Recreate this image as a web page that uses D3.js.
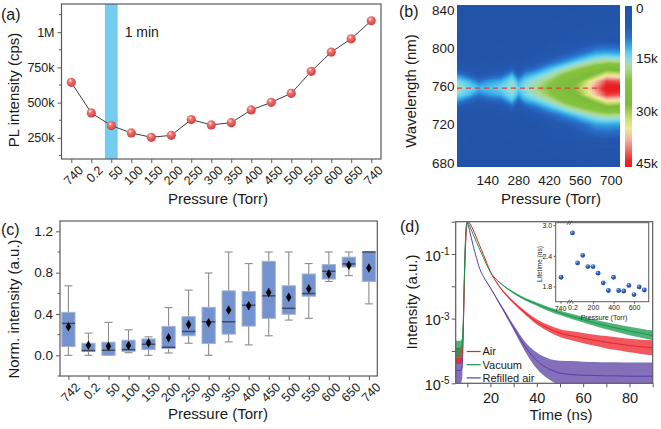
<!DOCTYPE html>
<html><head><meta charset="utf-8">
<script src="https://cdn.jsdelivr.net/npm/d3@7/dist/d3.min.js"></script>
<style>
html,body{margin:0;padding:0;background:#fff;}
svg{display:block;font-family:"Liberation Sans",Arial,Helvetica,sans-serif;}
</style></head><body>
<svg id="fig" width="661" height="429" viewBox="0 0 661 429"></svg>
<script>
// ---------------- (a) PL intensity vs pressure ----------------
const aLabels = ["740","0.2","50","100","150","200","250","300","350","400","450","500","550","600","650","740"];
const aIntensity = [644000,427000,337000,285000,254000,268000,380000,342000,358000,448000,502000,566000,722000,859000,953000,1081000];
const aYTicks = [250000,500000,750000,1000000];
const aYTickLabels = ["250k","500k","750k","1M"];
const aBandCategory = 2;
const aBandText = "1 min";

// ---------------- (b) PL map (k counts) ----------------
const bPressure = [0,50,100,150,200,250,280,310,350,420,490,560,630,680,740];
const bWavelength = [676,700,720,730,738,745,751,758,765,771,778,786,795,810,845];
const bSpectra = [
  [1.5,2,2.5,3.5,6,11,14.5,17,14.5,11,6,3.5,2.5,2,1.5],
  [1.5,2,2.5,3,5,8,12.5,14.5,12.5,8,5,3,2.5,2,1.5],
  [1.5,1.8,2,3,4,6,9,12.5,9,6,4,3,2,1.8,1.5],
  [1.5,1.8,2.2,3,4.5,7,11,13,11,7,4.5,3,2.2,1.8,1.5],
  [1.5,1.8,2.3,3.2,5,8,12,14,12,8,5,3.2,2.3,1.8,1.5],
  [1.5,2,3,4.5,7.5,12.5,15,16.5,15,12.5,7.5,4.5,3,2,1.5],
  [1.5,1.8,2.3,3.2,5,7.5,11.5,13.5,11.5,7.5,5,3.2,2.3,1.8,1.5],
  [1.5,2,2.8,4.2,7,11.5,14,15.5,14,11.5,7,4.2,2.8,2,1.5],
  [1.5,2,3,5,8.5,13,16,17.5,16,13,8.5,5,3,2,1.5],
  [1.5,2.5,4.5,7.5,12.5,16.5,20,22,20,16.5,12.5,7.5,4.5,2.5,1.5],
  [1.5,3,6,10.5,16.5,22,25,26,25,22,16.5,10.5,6,3,1.5],
  [2,3.5,8,14,20.5,25,29,31,29,25,20.5,14,8,3.5,2],
  [2,4,11,17,24,30,37,40,37,30,24,17,11,4,2],
  [2,4,11.5,18,27,35,43,46,43,35,27,18,11.5,4,2],
  [2,4,11,17.5,26,34,42,46,42,34,26,17.5,11,4,2]
];
const bXTicks = [140,280,420,560,700];
const bYTicks = [680,720,760,800,840];
const bPeakWavelength = 758;
const bColorTicks = [0,15000,30000,45000];
const bColorTickLabels = ["0","15k","30k","45k"];

// ---------------- (c) box plot ----------------
const cLabels = ["742","0.2","50","100","150","200","250","300","350","400","450","500","550","600","650","740"];
const cWhiskerLow  = [0,0,0,0.026,0,0.023,0.117,0,0.13,0.101,0.189,0.341,0.358,0.715,0.771,0.498];
const cQ1          = [0.085,0.039,0.0,0.039,0.055,0.065,0.189,0.114,0.205,0.283,0.358,0.397,0.572,0.738,0.855,0.715];
const cMedian      = [0.309,0.046,0.049,0.055,0.107,0.078,0.231,0.325,0.325,0.485,0.576,0.455,0.598,0.813,0.885,1.0];
const cQ3          = [0.416,0.117,0.127,0.146,0.159,0.28,0.374,0.465,0.624,0.618,0.91,0.673,0.787,0.878,0.95,1.0];
const cWhiskerHigh = [0.673,0.215,0.319,0.247,0.179,0.462,0.631,0.797,1.0,0.888,1.0,1.0,0.888,1.0,1.0,1.0];
const cMean        = [0.276,0.098,0.088,0.094,0.12,0.169,0.299,0.315,0.439,0.481,0.608,0.563,0.644,0.787,0.872,0.846];
const cYTicks = [0,0.4,0.8,1.2];

// ---------------- (d) decay curves (log10 intensity) ----------------
const dTime = [5,6,7,7.8,8.3,8.7,9.1,9.5,10,10.5,11,12,13,14,15,17,20,23,26,30,35,40,45,50,55,60,65,70,75,80,85,90];
const dAirLog    = [-4.15,-4.15,-4.15,-4.1,-3.2,-2.0,-1.0,-0.4,-0.06,0,-0.04,-0.17,-0.33,-0.5,-0.68,-1.02,-1.55,-1.92,-2.2,-2.5,-2.82,-3.1,-3.3,-3.45,-3.53,-3.6,-3.67,-3.73,-3.78,-3.83,-3.87,-3.9];
const dVacuumLog = [-3.93,-3.93,-3.93,-3.8,-3.0,-1.8,-0.8,-0.2,0,-0.05,-0.13,-0.3,-0.47,-0.64,-0.8,-1.12,-1.56,-1.82,-2.0,-2.2,-2.4,-2.55,-2.7,-2.82,-2.93,-3.03,-3.13,-3.22,-3.3,-3.38,-3.45,-3.52];
const dRefillLog = [-4.6,-4.6,-4.6,-4.5,-3.2,-1.9,-0.85,-0.2,-0.02,-0.12,-0.28,-0.58,-0.87,-1.13,-1.38,-1.7,-2.05,-2.42,-2.78,-3.28,-3.87,-4.3,-4.55,-4.68,-4.73,-4.75,-4.76,-4.77,-4.77,-4.78,-4.78,-4.78];
const dAirNoise    = [0.25,0.25,0.25,0.2,0.05,0,0,0,0,0,0,0,0,0,0,0,0.01,0.02,0.03,0.04,0.06,0.08,0.1,0.12,0.14,0.16,0.17,0.19,0.2,0.21,0.22,0.23];
const dVacuumNoise = [0.25,0.25,0.25,0.2,0.05,0,0,0,0,0,0,0,0,0,0,0,0.01,0.01,0.02,0.03,0.04,0.05,0.06,0.07,0.08,0.09,0.1,0.11,0.12,0.13,0.14,0.15];
const dRefillNoise = [0.4,0.4,0.4,0.35,0.05,0,0,0,0,0,0,0,0,0,0,0,0.02,0.03,0.05,0.08,0.15,0.25,0.32,0.38,0.42,0.42,0.42,0.42,0.42,0.42,0.42,0.42];
const dSeriesNames = ["Air","Vacuum","Refilled air"];
const dXTicks = [20,40,60,80];

// inset: lifetime vs pressure
const insetBreakLabel = "740";
const insetBreakLifetime = 1.98;
const insetPressure = [0.2,50,100,150,200,250,300,350,400,450,500,550,600,650,700];
const insetLifetime = [2.85,2.26,2.41,2.19,2.19,2.06,1.87,1.72,1.98,1.72,1.71,1.82,1.64,1.79,1.73];
const insetXTicks = [200,400,600];
const insetYTicks = [1.8,2.4,3.0];

// =====================================================================
const svg = d3.select("#fig");
const defs = svg.append("defs");
const INK = "#1a1a1a", FRAME = "#5a5a5a";

function sphere(id, hi, mid, lo){
  const g = defs.append("radialGradient").attr("id", id).attr("cx","38%").attr("cy","32%").attr("r","70%");
  g.append("stop").attr("offset","0%").attr("stop-color",hi);
  g.append("stop").attr("offset","30%").attr("stop-color",mid);
  g.append("stop").attr("offset","100%").attr("stop-color",lo);
}
sphere("sRed","#fff4f0","#f27472","#cf3b3b");
sphere("sBlue","#d8e6ff","#3f6fc8","#1c3f92");

function styleAxis(g, size){
  g.attr("font-family", null).attr("font-size", size);
  g.select(".domain").remove();
  g.selectAll(".tick line").attr("stroke", FRAME).attr("stroke-width", 1);
  g.selectAll(".tick text").attr("fill", INK);
}
function frame(box){
  svg.append("rect").attr("x",box.l).attr("y",box.t).attr("width",box.r-box.l).attr("height",box.b-box.t)
    .attr("fill","none").attr("stroke",FRAME).attr("stroke-width",1.2);
}
function label(x, y, txt, size, opts={}){
  const t = svg.append("text").attr("x",x).attr("y",y).attr("font-size",size).attr("fill",INK).text(txt);
  if (opts.anchor) t.attr("text-anchor", opts.anchor);
  if (opts.rotate) t.attr("transform", `rotate(-90,${x},${y})`);
  return t;
}

// ---------------- panel (a) ----------------
{
  const A = {l:61.5, r:381, t:4, b:159};
  const x = d3.scalePoint().domain(d3.range(aLabels.length)).range([A.l, A.r]).padding(0.49);
  const y = d3.scaleLinear().domain([100000,1200000]).range([A.b, A.t]);
  const st = x.step();
  svg.append("rect").attr("x", x(aBandCategory)-0.32*st).attr("y", A.t).attr("width", 0.64*st)
    .attr("height", A.b-A.t).attr("fill","#74ccf1");
  svg.append("path").datum(aIntensity)
    .attr("d", d3.line().x((d,i)=>x(i)).y(d=>y(d)))
    .attr("fill","none").attr("stroke","#3c3c3c").attr("stroke-width",1);
  svg.append("g").selectAll("circle").data(aIntensity).join("circle")
    .attr("cx",(d,i)=>x(i)).attr("cy",d=>y(d)).attr("r",4.6).attr("fill","url(#sRed)");
  const gy = svg.append("g").attr("transform",`translate(${A.l},0)`)
    .call(d3.axisLeft(y).tickValues(aYTicks).tickFormat((d,i)=>aYTickLabels[i]).tickSize(4).tickPadding(3));
  styleAxis(gy, 12.5);
  svg.append("g").selectAll("line").data(d3.range(125000,1200000,250000)).join("line")
    .attr("x1",A.l-2.5).attr("x2",A.l).attr("y1",d=>y(d)).attr("y2",d=>y(d)).attr("stroke",FRAME);
  const gx = svg.append("g").attr("transform",`translate(0,${A.b})`)
    .call(d3.axisBottom(x).tickFormat(i=>aLabels[i]).tickSize(4));
  styleAxis(gx, 12.5);
  gx.selectAll(".tick text").attr("x",0).attr("y",0).attr("dy",0)
    .attr("transform","translate(12,12) rotate(-45)").style("text-anchor","end");
  frame(A);
  label(x(aBandCategory)+0.32*st+7, 37, aBandText, 14);
  label(218, 204, "Pressure (Torr)", 15, {anchor:"middle"});
  label(19, 90, "PL intensity (cps)", 15, {anchor:"middle", rotate:true});
  label(1, 20, "(a)", 16);
}

// ---------------- panel (b) ----------------
{
  const B = {l:457, r:620, t:5, b:167};
  const x = d3.scaleLinear().domain([0,740]).range([B.l, B.r]);
  const y = d3.scaleLinear().domain([675.6,845]).range([B.b, B.t]);
  const cStops = [0,6000,9000,11500,13500,15500,18000,21000,28000,32000,35000,38000,41000,44000,46000];
  const cCols  = ["#2052a5","#2459b0","#2a72cc","#35a9e6","#62d0ef","#97dcd6","#acd98e","#86c440","#7bbc3a","#c9dc6c","#efe99c","#f2b4a6","#f07070","#ec2a2a","#e81c22"];
  const color = d3.scaleLinear().domain(cStops).range(cCols).interpolate(d3.interpolateRgb).clamp(true);
  const nx = bPressure.length, ny = bWavelength.length;
  const vals = [];
  for (let j=0;j<ny;j++) for (let i=0;i<nx;i++) vals.push(bSpectra[i][j]*1000);
  const thr = d3.range(0, 46500, 500);
  const cont = d3.contours().size([nx, ny]).thresholds(thr)(vals);
  const ix = d3.scaleLinear().domain(d3.range(nx).map(i=>i+0.5)).range(bPressure);
  const iy = d3.scaleLinear().domain(d3.range(ny).map(j=>j+0.5)).range(bWavelength);
  const path = d3.geoPath(d3.geoTransform({point(px,py){ this.stream.point(x(ix(px)), y(iy(py))); }}));
  defs.append("clipPath").attr("id","clipB").append("rect")
    .attr("x",B.l).attr("y",B.t).attr("width",B.r-B.l).attr("height",B.b-B.t);
  const g = svg.append("g").attr("clip-path","url(#clipB)");
  g.append("rect").attr("x",B.l).attr("y",B.t).attr("width",B.r-B.l).attr("height",B.b-B.t).attr("fill",color(0));
  g.selectAll("path").data(cont).join("path").attr("d",path)
    .attr("fill",d=>color(d.value+250)).attr("stroke",d=>color(d.value+250)).attr("stroke-width",0.3);
  g.append("line").attr("x1",B.l).attr("x2",x(640)).attr("y1",y(bPeakWavelength)).attr("y2",y(bPeakWavelength))
    .attr("stroke","#e8373d").attr("stroke-width",1.2).attr("stroke-dasharray","5,4");
  svg.append("g").selectAll("text").data(bYTicks).join("text")
    .attr("x",B.l-2.5).attr("y",d=>y(d)).attr("dy","0.36em").attr("text-anchor","end")
    .attr("font-size",13.5).attr("fill",INK).text(d=>d);
  svg.append("g").selectAll("text").data(bXTicks).join("text")
    .attr("x",d=>x(d)).attr("y",185).attr("text-anchor","middle")
    .attr("font-size",13.5).attr("fill",INK).text(d=>d);
  label(551, 204, "Pressure (Torr)", 15, {anchor:"middle"});
  label(416, 91, "Wavelength (nm)", 15, {anchor:"middle", rotate:true});
  label(399, 17, "(b)", 16);
  const cb = d3.scaleLinear().domain([0,46000]).range([6,167]);
  const lg = defs.append("linearGradient").attr("id","cbar").attr("x1",0).attr("x2",0).attr("y1",0).attr("y2",1);
  d3.range(0, 46001, 1000).forEach(v => lg.append("stop").attr("offset", v/46000).attr("stop-color", color(v)));
  svg.append("rect").attr("x",625).attr("y",cb(0)).attr("width",7).attr("height",cb(46000)-cb(0)).attr("fill","url(#cbar)");
  svg.append("g").selectAll("text").data(bColorTicks).join("text")
    .attr("x",636).attr("y",(d,i)=>i===0?cb(d)+2.5:cb(d)).attr("dy","0.36em")
    .attr("font-size",13.5).attr("fill",INK).text((d,i)=>bColorTickLabels[i]);
}

// ---------------- panel (c) ----------------
{
  const C = {l:60, r:377.3, t:221, b:376};
  const x = d3.scalePoint().domain(d3.range(cLabels.length)).range([C.l, C.r]).padding(0.42);
  const y = d3.scaleLinear().domain([-0.2,1.3]).range([C.b, C.t]);
  const st = x.step(), bw = 0.66*st, cw = 0.4*st;
  const g = svg.append("g");
  const idx = d3.range(cLabels.length);
  g.selectAll(".wh").data(idx).join("line").attr("x1",i=>x(i)).attr("x2",i=>x(i))
    .attr("y1",i=>y(cWhiskerLow[i])).attr("y2",i=>y(cWhiskerHigh[i])).attr("stroke","#8c8c8c").attr("stroke-width",1.1);
  g.selectAll(".capH").data(idx).join("line").attr("x1",i=>x(i)-cw/2).attr("x2",i=>x(i)+cw/2)
    .attr("y1",i=>y(cWhiskerHigh[i])).attr("y2",i=>y(cWhiskerHigh[i])).attr("stroke","#8c8c8c").attr("stroke-width",1.1);
  g.selectAll(".capL").data(idx).join("line").attr("x1",i=>x(i)-cw/2).attr("x2",i=>x(i)+cw/2)
    .attr("y1",i=>y(cWhiskerLow[i])).attr("y2",i=>y(cWhiskerLow[i])).attr("stroke","#8c8c8c").attr("stroke-width",1.1);
  g.selectAll(".box").data(idx).join("rect").attr("x",i=>x(i)-bw/2).attr("width",bw)
    .attr("y",i=>y(cQ3[i])).attr("height",i=>Math.max(0.5,y(cQ1[i])-y(cQ3[i])))
    .attr("fill","#7292d0").attr("stroke","#a6b3cf").attr("stroke-width",1);
  g.selectAll(".med").data(idx).join("line").attr("x1",i=>x(i)-bw/2).attr("x2",i=>x(i)+bw/2)
    .attr("y1",i=>y(cMedian[i])).attr("y2",i=>y(cMedian[i])).attr("stroke","#3f4a62").attr("stroke-width",1.5);
  g.selectAll(".mean").data(idx).join("path").attr("d", d3.symbol(d3.symbolDiamond, 26))
    .attr("transform",i=>`translate(${x(i)},${y(cMean[i])})`).attr("fill","#000");
  const gy = svg.append("g").attr("transform",`translate(${C.l},0)`)
    .call(d3.axisLeft(y).tickValues(cYTicks).tickFormat(d3.format(".1f")).tickSize(4).tickPadding(3));
  styleAxis(gy, 13.5);
  svg.append("g").selectAll("line").data([-0.2,0.2,0.6,1.0]).join("line")
    .attr("x1",C.l-2.5).attr("x2",C.l).attr("y1",d=>y(d)).attr("y2",d=>y(d)).attr("stroke",FRAME);
  const gx = svg.append("g").attr("transform",`translate(0,${C.b})`)
    .call(d3.axisBottom(x).tickFormat(i=>cLabels[i]).tickSize(4));
  styleAxis(gx, 12.5);
  gx.selectAll(".tick text").attr("x",0).attr("y",0).attr("dy",0)
    .attr("transform","translate(12,12) rotate(-45)").style("text-anchor","end");
  frame(C);
  label(218, 419, "Pressure (Torr)", 15, {anchor:"middle"});
  label(19, 309, "Norm. intensity (a.u.)", 15, {anchor:"middle", rotate:true});
  label(1, 235, "(c)", 16);
}

// ---------------- panel (d) ----------------
{
  const D = {l:455.7, r:652.7, t:221.7, b:383.3};
  const x = d3.scaleLinear().domain([5,90]).range([D.l, D.r]);
  const y = d3.scaleLog().domain([1e-5,1]).range([D.b, D.t]);
  defs.append("clipPath").attr("id","clipD").append("rect")
    .attr("x",D.l).attr("y",D.t).attr("width",D.r-D.l).attr("height",D.b-D.t);
  const series = [
    {name:dSeriesNames[2], L:dRefillLog, n:dRefillNoise, color:"#5a3fa3"},
    {name:dSeriesNames[0], L:dAirLog, n:dAirNoise, color:"#ec2027"},
    {name:dSeriesNames[1], L:dVacuumLog, n:dVacuumNoise, color:"#15984a"}
  ];
  const g = svg.append("g").attr("clip-path","url(#clipD)");
  series.forEach(s => {
    g.append("path").datum(s.L)
      .attr("d", d3.area().curve(d3.curveMonotoneX).x((d,i)=>x(dTime[i]))
        .y0((d,i)=>y(Math.pow(10, d - s.n[i]))).y1((d,i)=>y(Math.pow(10, d + s.n[i]))))
      .attr("fill", s.color).attr("opacity",0.75);
    g.append("path").datum(s.L)
      .attr("d", d3.line().curve(d3.curveMonotoneX).x((d,i)=>x(dTime[i])).y(d=>y(Math.pow(10,d))))
      .attr("fill","none").attr("stroke",s.color).attr("stroke-width",1);
  });
  const gy = svg.append("g").attr("transform",`translate(${D.l},0)`)
    .call(d3.axisLeft(y).tickValues([1,1e-1,1e-2,1e-3,1e-4,1e-5]).tickFormat(()=>"").tickSize(4));
  styleAxis(gy, 14.5);
  const ylab = svg.append("g").selectAll("text").data([-1,-3,-5]).join("text")
    .attr("x",D.l-6).attr("y",d=>y(Math.pow(10,d))).attr("dy","0.45em").attr("text-anchor","end")
    .attr("font-size",14.5).attr("fill",INK);
  ylab.append("tspan").text("10");
  ylab.append("tspan").attr("dy","-0.55em").attr("font-size",10).text(d=>d);
  const gx = svg.append("g").attr("transform",`translate(0,${D.b})`)
    .call(d3.axisBottom(x).tickValues(d3.range(10,91,10)).tickFormat(d=>dXTicks.includes(d)?d:"").tickSize(4).tickPadding(5));
  styleAxis(gx, 14.5);
  frame(D);
  label(561, 420, "Time (ns)", 15, {anchor:"middle"});
  label(417, 302, "Intensity (a.u.)", 15, {anchor:"middle", rotate:true});
  label(400, 232, "(d)", 16);
  const leg = [{n:dSeriesNames[0],c:"#ec2027"},{n:dSeriesNames[1],c:"#15984a"},{n:dSeriesNames[2],c:"#5a3fa3"}];
  leg.forEach((e,k) => {
    const yy = 351.5 + k*13.2;
    svg.append("line").attr("x1",466.7).attr("x2",480.7).attr("y1",yy).attr("y2",yy).attr("stroke",e.c).attr("stroke-width",1.2);
    svg.append("text").attr("x",482.5).attr("y",yy).attr("dy","0.36em").attr("font-size",11).attr("fill",INK).text(e.n);
  });

  // inset
  const I = {l:555.7, r:648.7, t:222.7, b:301.7};
  svg.append("rect").attr("x",I.l).attr("y",I.t).attr("width",I.r-I.l).attr("height",I.b-I.t).attr("fill","#fff");
  const ixs = d3.scaleLinear().domain([0,700]).range([572.4, 644.3]);
  const ib = d3.scalePoint().domain([insetBreakLabel]).range([I.l, 566.4]).padding(0.5);
  const iys = d3.scaleLinear().domain([1.5,3.05]).range([I.b, I.t]);
  svg.append("g").selectAll("circle").data(insetLifetime).join("circle")
    .attr("cx",(d,i)=>ixs(insetPressure[i])).attr("cy",d=>iys(d)).attr("r",2.4).attr("fill","url(#sBlue)");
  svg.append("circle").attr("cx",ib(insetBreakLabel)).attr("cy",iys(insetBreakLifetime)).attr("r",2.4).attr("fill","url(#sBlue)");
  svg.append("rect").attr("x",I.l).attr("y",I.t).attr("width",I.r-I.l).attr("height",I.b-I.t)
    .attr("fill","none").attr("stroke",FRAME).attr("stroke-width",1);
  const iy = svg.append("g").attr("transform",`translate(${I.l},0)`)
    .call(d3.axisLeft(iys).tickValues(insetYTicks).tickFormat(d3.format(".1f")).tickSize(2).tickPadding(1.5));
  styleAxis(iy, 7);
  const ixg = svg.append("g").attr("transform",`translate(0,${I.b})`)
    .call(d3.axisBottom(ixs).tickValues([0].concat(insetXTicks)).tickFormat(d=>d===0?"0.2":d).tickSize(2).tickPadding(1.5));
  styleAxis(ixg, 7);
  svg.append("g").attr("transform",`translate(0,${I.b})`).call(g2 => {
    g2.append("line").attr("x1",ib(insetBreakLabel)).attr("x2",ib(insetBreakLabel)).attr("y1",0).attr("y2",2).attr("stroke",FRAME);
    g2.append("text").attr("x",ib(insetBreakLabel)-0.5).attr("y",9.5).attr("text-anchor","middle").attr("font-size",7).attr("fill",INK).text(insetBreakLabel);
  });
  [I.t, I.b].forEach(yy => {
    [-1.2, 1.2].forEach(o => {
      svg.append("line").attr("x1",569.5+o-1.2).attr("x2",569.5+o+1.2).attr("y1",yy+2).attr("y2",yy-2)
        .attr("stroke","#333").attr("stroke-width",0.8);
    });
  });
  label(604, 319.5, "Pressure (Torr)", 7, {anchor:"middle"});
  label(541.5, 264, "Lifetime (ns)", 6.5, {anchor:"middle", rotate:true});
}
</script>
</body></html>
